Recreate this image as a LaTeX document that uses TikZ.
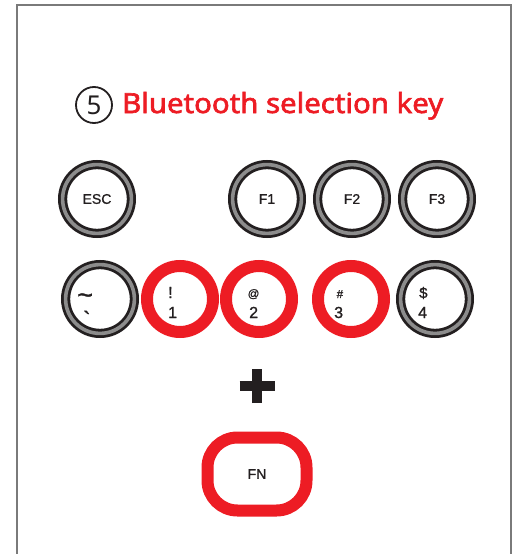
\documentclass[tikz,border=0pt]{standalone}
\usepackage{fontspec}
\setmainfont{Liberation Sans}
\newfontfamily\keyfont{Liberation Sans}[FakeBold=1.2]
\newfontfamily\titlefont{Noto Sans}
\newfontfamily\titleboldfont{Noto Sans}[FakeBold=2.2]
\definecolor{keyred}{HTML}{ED1C24}
\definecolor{ink}{HTML}{231F20}
\definecolor{ringgray}{HTML}{8C8C8C}
\definecolor{framegray}{HTML}{7A7A7A}
\tikzset{
  graykey/.style={circle, inner sep=0pt, minimum size=68.8pt, draw=ink, line width=2.8pt,
    double=ringgray, double distance=3.6pt, text=ink, font=\keyfont\fontsize{14}{14}\selectfont},
  redkey/.style={circle, inner sep=0pt, minimum size=66pt, draw=keyred, line width=12pt},
  fnkey/.style={rectangle, rounded corners=30pt, inner sep=0pt, minimum width=99pt,
    minimum height=73pt, draw=keyred, line width=12pt, text=ink, font=\keyfont\fontsize{14}{14}\selectfont},
  keylabel/.style={anchor=base west, inner sep=0pt, text=ink, font=\keyfont\fontsize{16}{16}\selectfont},
  smalllabel/.style={keylabel, font=\keyfont\fontsize{11.5}{12}\selectfont},
  plusbar/.style={draw=ink, line width=9.5pt},
}
\begin{document}
\begin{tikzpicture}[x=1pt,y=-1pt]
\useasboundingbox (0,0) rectangle (517,554);
% frame
\draw[framegray, line width=1.8pt] (17,554) -- (17,5) -- (511,5) -- (511,554);
% title
\node[circle, draw=ink, line width=1.8pt, minimum size=36pt, inner sep=0pt,
      text=ink, font=\titlefont\fontsize{26}{26}\selectfont] (num) at (94,105) {5};
\node[anchor=base west, inner sep=0pt, text=keyred] (title) at (122,113)
      {\resizebox{321pt}{21pt}{\titleboldfont Bluetooth selection key}};
% row 1
\node[graykey] (esc) at (97,199) {ESC};
\node[graykey] (f1) at (267,199) {F1};
\node[graykey] (f2) at (352,199) {\raisebox{-2pt}{F2}};
\node[graykey] (f3) at (437,199) {F3};
% row 2
\node[graykey] (k0) at (100,299) {};
\node[redkey] (k1) at (180,299) {};
\node[redkey] (k2) at (259,299) {};
\node[redkey] (k3) at (351,299) {};
\node[graykey] (k4) at (435,299) {};
\node[keylabel, font=\keyfont\fontsize{27}{27}\selectfont] (l0a) at (77,304) {\char`\~};
\node[keylabel, font=\keyfont\fontsize{22}{22}\selectfont] (l0b) at (83,327) {\char`\`};
\node[keylabel] (l1a) at (168,298) {!};
\node[keylabel] (l1b) at (168,318) {1};
\node[smalllabel] (l2a) at (247.5,297.5) {@};
\node[keylabel] (l2b) at (249,318) {2};
\node[smalllabel] (l3a) at (336.5,298) {\#};
\node[keylabel] (l3b) at (334,318) {3};
\node[keylabel, font=\keyfont\fontsize{15}{15}\selectfont] (l4a) at (419,298) {\$};
\node[keylabel] (l4b) at (418,318) {4};
% plus
\coordinate (plus) at (257,386);
\draw[plusbar] ([xshift=-17.5pt]plus) -- ([xshift=17.5pt]plus);
\draw[plusbar] ([yshift=-17pt]plus) -- ([yshift=17pt]plus);
% FN
\node[fnkey] (fn) at (257,474) {FN};
\end{tikzpicture}
\end{document}
